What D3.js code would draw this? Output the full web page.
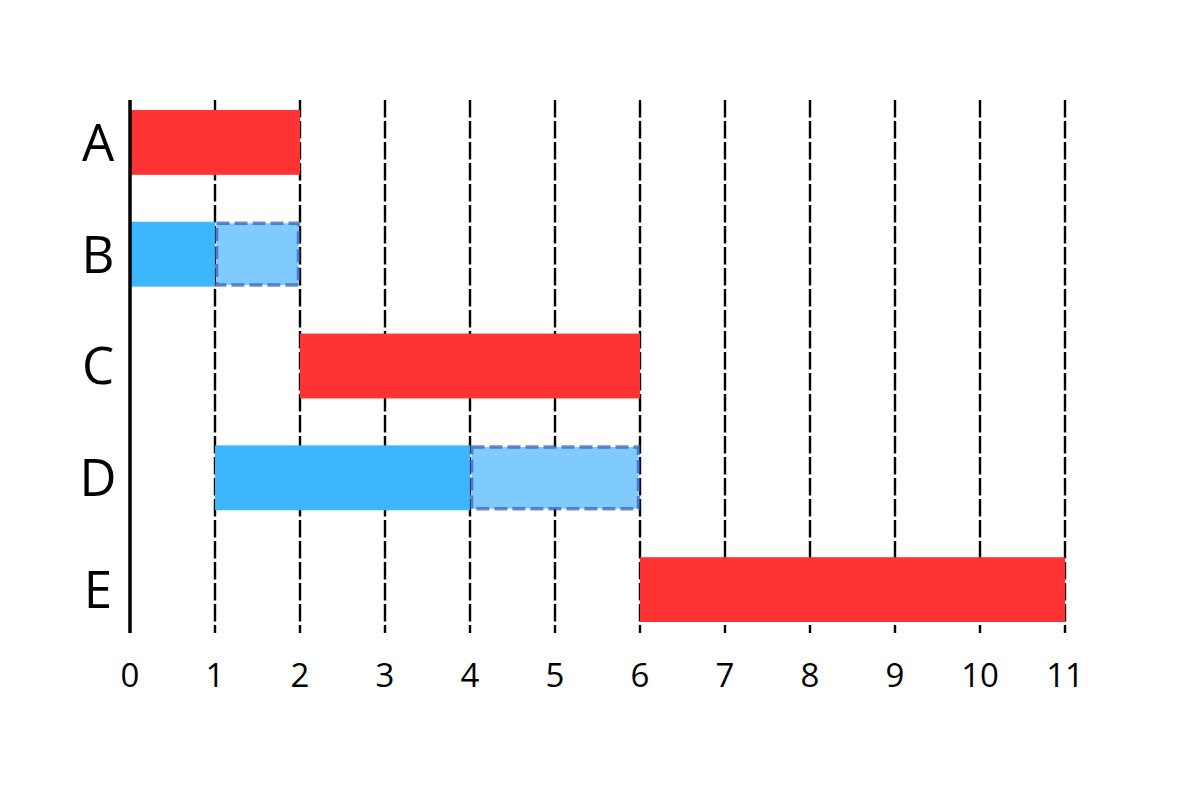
<!DOCTYPE html>
<html>
<head>
<meta charset="utf-8">
<script src="https://cdn.jsdelivr.net/npm/d3@7"></script>
<style>
  body { margin: 0; background: #fff; }
  svg text { font-family: "Open Sans", "Noto Sans", sans-serif; fill: #000; }
</style>
</head>
<body>
<div id="chart"></div>
<script>
// task rows, top to bottom
const tasks = ["A", "B", "C", "D", "E"]
// scheduled work: start / end
const workStart = [0, 0, 2, 1, 6]
const workEnd   = [2, 1, 6, 4, 11]
const critical  = [true, false, true, false, true]
// slack (float) after the work, null when none
const slackEnd  = [null, 2, null, 6, null]
const xTicks = [0, 1, 2, 3, 4, 5, 6, 7, 8, 9, 10, 11]

const width = 1188, height = 794

const svg = d3.select("#chart").append("svg")
    .attr("width", width)
    .attr("height", height)

const x = d3.scaleLinear()
    .domain([0, 11])
    .range([130, 1065])

const y = d3.scaleBand()
    .domain(tasks)
    .range([86.5, 645.5])
    .paddingInner(0.42)
    .paddingOuter(0.21)

const gridTop = 100, gridBottom = 633

// dashed vertical grid
svg.append("g").selectAll("line")
    .data(xTicks.filter(d => d > 0))
    .join("line")
    .attr("x1", d => x(d)).attr("x2", d => x(d))
    .attr("y1", gridTop).attr("y2", gridBottom)
    .attr("stroke", "#000")
    .attr("stroke-width", 2.4)
    .attr("stroke-dasharray", "17.5,3.5")

const rows = tasks.map((t, i) => ({
    task: t, start: workStart[i], end: workEnd[i],
    critical: critical[i], slack: slackEnd[i]
}))

// work bars
svg.append("g").selectAll("rect")
    .data(rows)
    .join("rect")
    .attr("x", d => x(d.start))
    .attr("y", d => y(d.task))
    .attr("width", d => x(d.end) - x(d.start))
    .attr("height", y.bandwidth())
    .attr("fill", d => d.critical ? "#ff3333" : "#3bb6ff")

// slack bars
svg.append("g").selectAll("rect")
    .data(rows.filter(d => d.slack != null))
    .join("rect")
    .attr("x", d => x(d.end) + 1.5)
    .attr("y", d => y(d.task) + 1.5)
    .attr("width", d => x(d.slack) - x(d.end) - 3)
    .attr("height", y.bandwidth() - 3)
    .attr("fill", "#7fcbff")
    .attr("stroke", "rgba(50,90,180,0.7)")
    .attr("stroke-width", 3.5)
    .attr("stroke-dasharray", "13,5")

// left axis line
svg.append("line")
    .attr("x1", x(0)).attr("x2", x(0))
    .attr("y1", gridTop).attr("y2", gridBottom)
    .attr("stroke", "#000")
    .attr("stroke-width", 3.5)

// task labels
svg.append("g").selectAll("text")
    .data(tasks)
    .join("text")
    .attr("x", 98)
    .attr("y", d => y(d) + y.bandwidth() / 2)
    .attr("dy", "0.36em")
    .attr("text-anchor", "middle")
    .style("font-size", "51px")
    .text(d => d)

// x tick labels
svg.append("g").selectAll("text")
    .data(xTicks)
    .join("text")
    .attr("x", d => x(d))
    .attr("y", 687)
    .attr("text-anchor", "middle")
    .style("font-size", "33px")
    .text(d => d)
</script>
</body>
</html>
